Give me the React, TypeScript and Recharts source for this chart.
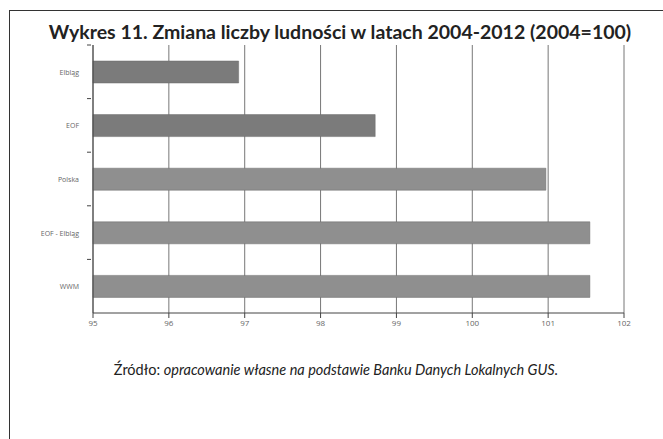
import { BarChart, Bar, XAxis, YAxis, CartesianGrid, Cell } from 'recharts';

const categories = ['Elbląg', 'EOF', 'Polska', 'EOF - Elbląg', 'WWM'];
const values = [96.92, 98.72, 100.97, 101.55, 101.55];
const xTicks = [95, 96, 97, 98, 99, 100, 101, 102];
const barColors = ['#7b7b7b', '#7b7b7b', '#8f8f8f', '#8f8f8f', '#8f8f8f'];

const data = categories.map((name, i) => ({ name, value: values[i] }));

const BAND = 268 / categories.length;

const CategoryTick = (props: any) => {
  const { x, y, payload } = props;
  return (
    <g>
      <text x={x - 6} y={y} dy={3} textAnchor="end" fontSize={7} fill="#666" fontFamily="'Open Sans', sans-serif">
        {payload.value}
      </text>
      <line x1={x + 2} x2={x + 6} y1={y - BAND / 2} y2={y - BAND / 2} stroke="#444" />
    </g>
  );
};

export default function App() {
  return (
    <div style={{ position: 'absolute', left: 0, top: 0, width: 663, height: 439, background: '#fff', overflow: 'hidden' }}>
      <div style={{ position: 'absolute', left: 9, top: 10, width: 660, height: 440, border: '1.5px solid #333', boxSizing: 'border-box' }} />
      <div
        style={{
          position: 'absolute',
          left: 0,
          top: 20,
          width: 680,
          textAlign: 'center',
          fontFamily: 'Lato, sans-serif',
          fontWeight: 700,
          fontSize: 19.5,
          color: '#222',
        }}
      >
        Wykres 11. Zmiana liczby ludności w latach 2004-2012 (2004=100)
      </div>
      <div style={{ position: 'absolute', left: 0, top: 0 }}>
        <BarChart
          width={663}
          height={340}
          data={data}
          layout="vertical"
          margin={{ top: 45, right: 39, bottom: 7, left: 5 }}
        >
          <CartesianGrid horizontal={false} stroke="#777" />
          <XAxis
            type="number"
            domain={[95, 102]}
            ticks={xTicks}
            tick={{ fontSize: 8, fill: '#666', fontFamily: "'Open Sans', sans-serif" }}
            tickLine={{ stroke: '#444' }}
            tickSize={5}
            axisLine={{ stroke: '#444' }}
            height={20}
          />
          <YAxis
            type="category"
            dataKey="name"
            width={88}
            tick={<CategoryTick />}
            tickLine={false}
            axisLine={{ stroke: '#444' }}
          />
          <Bar dataKey="value" barSize={22} isAnimationActive={false} stroke="#6a6a6a" strokeWidth={0.5}>
            {data.map((d, i) => (
              <Cell key={d.name} fill={barColors[i]} />
            ))}
          </Bar>
        </BarChart>
      </div>
      <div
        style={{
          position: 'absolute',
          left: 0,
          top: 361,
          width: 672,
          textAlign: 'center',
          fontFamily: 'Lato, sans-serif',
          fontSize: 14.5,
          color: '#222',
        }}
      >
        Źródło: <i>opracowanie własne na podstawie Banku Danych Lokalnych GUS.</i>
      </div>
    </div>
  );
}
